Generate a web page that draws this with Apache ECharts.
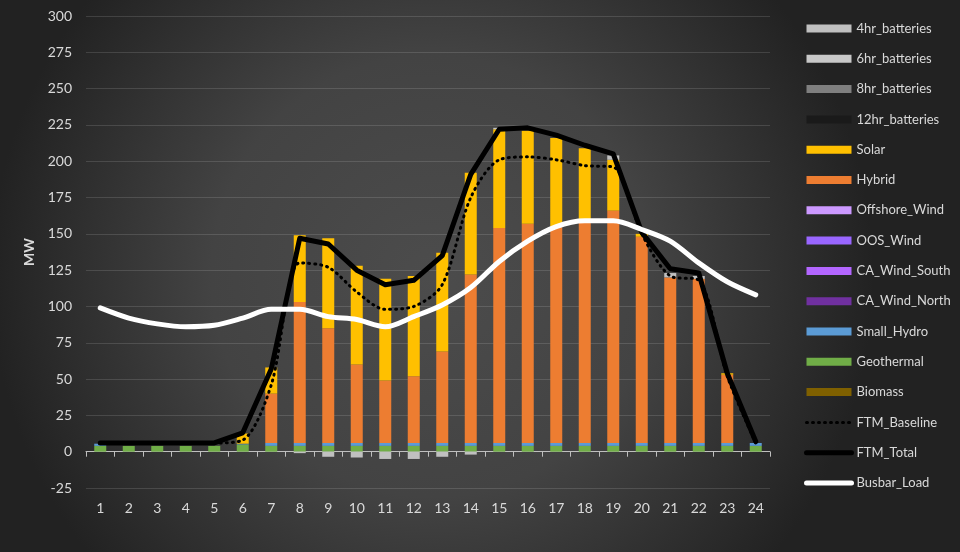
<!DOCTYPE html>
<html>
<head>
<meta charset="utf-8">
<script src="https://cdn.jsdelivr.net/npm/echarts@6/dist/echarts.min.js"></script>
<style>
  html, body { margin: 0; padding: 0; }
  #chart { width: 960px; height: 552px; }
</style>
</head>
<body>
<div id="chart"></div>
<script>
// hours on the x axis
const hours = ['1','2','3','4','5','6','7','8','9','10','11','12','13','14','15','16','17','18','19','20','21','22','23','24']

// stacked resources (MW)
const biomass      = [0,0,0,0,0,0,0,0,0,0,0,0,0,0,0,0,0,0,0,0,0,0,0,0]
const geothermal   = [4,4,4,4,4,5,4,4,4,4,4,4,4,4,4,4,4,4,4,4,4,4,4,4]
const smallHydro   = [1.5,0,0,0,0,0.5,2,2,2,2,2,2,2,2,2,2,2,2,2,2,2,2,2,2]
const caWindNorth  = [0,0,0,0,0,0,0,0,0,0,0,0,0,0,0,0,0,0,0,0,0,0,0,0]
const caWindSouth  = [0,0,0,0,0,0,0,0,0,0,0,0,0,0,0,0,0,0,0,0,0,0,0,0]
const oosWind      = [0,0,0,0,0,0,0,0,0,0,0,0,0,0,0,0,0,0,0,0,0,0,0,0]
const offshoreWind = [0,0,0,0,0,0,0,0,0,0,0,0,0,0,0,0,0,0,0,0,0,0,0,0]
const hybrid       = [0,0,0,0,0,0,34,97,79,54,43,46,63,116,148,151,149,152,160,142,114,113,47,0]
const solar        = [0,0,0,0,0,7,18,46,62,68,70,69,68,70,68,64,61,51,35,2,0,0,1,0]
const bat12hr      = [0,0,0,0,0,0,0,0,0,0,0,0,0,0,0,0,0,0,0,0,0,0,0,0]
const bat8hr       = [0,0,0,0,0,0,0,0,0,0,0,0,0,0,0,0,0,0,0,0,0,0,0,0]
const bat6hr       = [0,0,0,0,0,0,0,0,0,0,0,0,0,0,0,0,0,0,0,0,0,0,0,0]
const bat4hr       = [0,0,0,0,0,0,0,-1,-3.5,-4,-5,-5,-3.5,-2,1,0,0,0,3,0,3,2,0,0]

// lines (MW)
const ftmBaseline = [6,6,6,6,6,8,46,130,127,110,98,100,115,175,201,203,201,197,196,150,121,118,52,6]
const ftmTotal    = [6,6,6,6,6,13,57,147,143,125,115,118,135,191,222,223,218,211,205,151,126,123,54,7]
const busbarLoad  = [99,92,88,86,87,92,98,98,93,91,86,93,101,113,131,145,155,159,159,153,145,130,117,108]

const textColor = '#d9d9d9'
const fontFamily = 'Lato, "Open Sans", sans-serif'

const chart = echarts.init(document.getElementById('chart'))

function barSeries(name, data, color) {
  return {
    name,
    type: 'bar',
    stack: 'total',
    data,
    barWidth: 12,
    itemStyle: { color },
    xAxisIndex: 0,
  }
}

function lineSeries(name, data, lineStyle, smooth) {
  return {
    name,
    type: 'line',
    data,
    symbol: 'none',
    smooth,
    lineStyle,
    itemStyle: { color: lineStyle.color },
    xAxisIndex: 0,
    z: 5,
  }
}

const baselineStyle = { color: '#000000', width: 3, type: [1, 5], cap: 'round' }
const totalStyle = { color: '#000000', width: 5, cap: 'round', join: 'round' }
const loadStyle = { color: '#ffffff', width: 5, cap: 'round', join: 'round' }

const legendNames = [
  '4hr_batteries', '6hr_batteries', '8hr_batteries', '12hr_batteries', 'Solar', 'Hybrid',
  'Offshore_Wind', 'OOS_Wind', 'CA_Wind_South', 'CA_Wind_North', 'Small_Hydro', 'Geothermal',
  'Biomass', 'FTM_Baseline', 'FTM_Total', 'Busbar_Load',
]
const lineStyles = { FTM_Baseline: baselineStyle, FTM_Total: totalStyle, Busbar_Load: loadStyle }

const option = {
  animation: false,
  backgroundColor: new echarts.graphic.RadialGradient(0.45, 0.5, 0.8, [
    { offset: 0, color: '#4c4c4c' },
    { offset: 0.5, color: '#434343' },
    { offset: 1, color: '#222222' },
  ]),
  textStyle: { fontFamily },
  legend: {
    orient: 'vertical',
    left: 799,
    top: 17,
    itemWidth: 45,
    itemHeight: 8,
    itemGap: 17.3,
    textStyle: { color: textColor, fontSize: 13, fontFamily },
    data: legendNames.map((name) =>
      lineStyles[name]
        ? {
            name,
            itemStyle: { color: 'rgba(0,0,0,0)', borderWidth: 0 },
            lineStyle: { width: lineStyles[name].width },
          }
        : { name, icon: 'rect' }
    ),
  },
  grid: {
    left: 86,
    right: 190,
    top: 16,
    bottom: 64,
  },
  xAxis: [
    {
      type: 'category',
      data: hours,
      axisLine: { onZero: true, lineStyle: { color: '#bfbfbf', width: 1 } },
      axisTick: { show: true, length: 5, lineStyle: { color: '#bfbfbf' } },
      axisLabel: { show: false },
    },
    {
      type: 'category',
      data: hours,
      position: 'bottom',
      axisLine: { show: false, onZero: false },
      axisTick: { show: false },
      axisLabel: { color: textColor, fontSize: 14, margin: 13, fontFamily },
    },
  ],
  yAxis: {
    type: 'value',
    min: -25,
    max: 300,
    interval: 25,
    name: 'MW',
    nameLocation: 'middle',
    nameRotate: 90,
    nameGap: 47,
    nameTextStyle: { color: textColor, fontSize: 14, fontWeight: 'bold', fontFamily },
    axisLine: { show: false },
    axisTick: { show: false },
    axisLabel: { color: textColor, fontSize: 14, margin: 14, fontFamily },
    splitLine: { lineStyle: { color: 'rgba(255,255,255,0.13)', width: 1 } },
  },
  series: [
    barSeries('Biomass', biomass, '#7f6000'),
    barSeries('Geothermal', geothermal, '#70ad47'),
    barSeries('Small_Hydro', smallHydro, '#5b9bd5'),
    barSeries('CA_Wind_North', caWindNorth, '#7030a0'),
    barSeries('CA_Wind_South', caWindSouth, '#b366ff'),
    barSeries('OOS_Wind', oosWind, '#9966ff'),
    barSeries('Offshore_Wind', offshoreWind, '#cc99ff'),
    barSeries('Hybrid', hybrid, '#ed7d31'),
    barSeries('Solar', solar, '#ffc000'),
    barSeries('12hr_batteries', bat12hr, '#1a1a1a'),
    barSeries('8hr_batteries', bat8hr, '#7f7f7f'),
    barSeries('6hr_batteries', bat6hr, '#c8c8c8'),
    barSeries('4hr_batteries', bat4hr, '#c0c0c0'),
    lineSeries('FTM_Baseline', ftmBaseline, baselineStyle, 0.3),
    lineSeries('FTM_Total', ftmTotal, totalStyle, false),
    lineSeries('Busbar_Load', busbarLoad, loadStyle, 0.3),
  ],
}

chart.setOption(option)
</script>
</body>
</html>
